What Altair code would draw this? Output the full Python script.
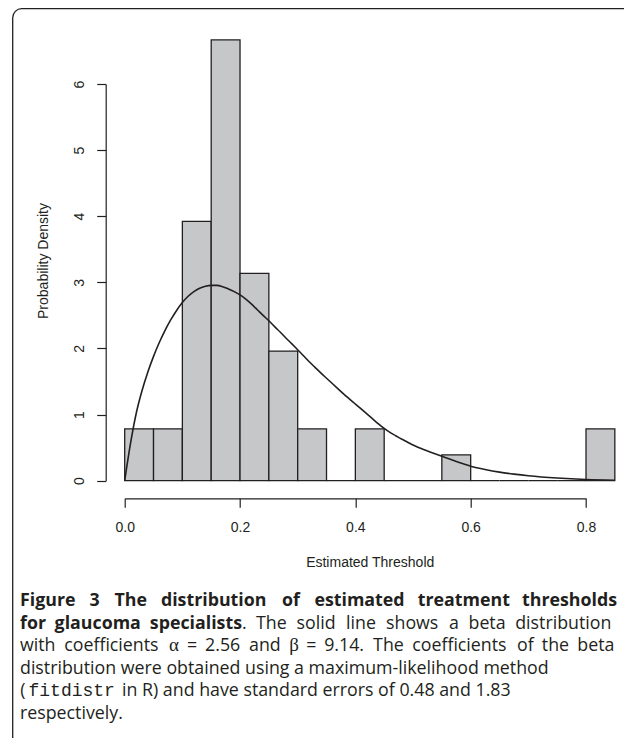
import altair as alt
import pandas as pd

# ---- data ----
bin_start = [0.00, 0.05, 0.10, 0.15, 0.20, 0.25, 0.30, 0.35, 0.40, 0.45, 0.50, 0.55, 0.60, 0.65, 0.70, 0.75, 0.80]
bin_end = [0.05, 0.10, 0.15, 0.20, 0.25, 0.30, 0.35, 0.40, 0.45, 0.50, 0.55, 0.60, 0.65, 0.70, 0.75, 0.80, 0.85]
density = [0.784, 0.784, 3.922, 6.667, 3.137, 1.961, 0.784, 0.0, 0.784, 0.0, 0.0, 0.392, 0.0, 0.0, 0.0, 0.0, 0.784]

curve_x = [0.00, 0.01, 0.02, 0.03, 0.04, 0.05, 0.06, 0.07, 0.08, 0.09, 0.10, 0.11, 0.12, 0.13, 0.14,
           0.15, 0.16, 0.17, 0.18, 0.19, 0.20, 0.21, 0.22, 0.23, 0.24, 0.25, 0.26, 0.27, 0.28, 0.29,
           0.30, 0.31, 0.32, 0.33, 0.34, 0.35, 0.36, 0.37, 0.38, 0.39, 0.40, 0.41, 0.42, 0.43, 0.44,
           0.45, 0.46, 0.47, 0.48, 0.49, 0.50, 0.525, 0.55, 0.575, 0.60, 0.625, 0.65, 0.675, 0.70,
           0.75, 0.80, 0.85]
curve_y = [0.00, 0.56, 1.02, 1.36, 1.64, 1.88, 2.09, 2.275, 2.435, 2.575, 2.695, 2.79, 2.86, 2.91, 2.94,
           2.955, 2.955, 2.935, 2.90, 2.86, 2.81, 2.745, 2.67, 2.585, 2.50, 2.42, 2.33, 2.245, 2.155, 2.07,
           1.98, 1.89, 1.80, 1.715, 1.63, 1.55, 1.47, 1.39, 1.31, 1.235, 1.16, 1.085, 1.01, 0.935, 0.86,
           0.79, 0.73, 0.68, 0.63, 0.585, 0.54, 0.45, 0.37, 0.29, 0.22, 0.17, 0.13, 0.10, 0.075,
           0.04, 0.018, 0.007]

x_ticks = [0.0, 0.2, 0.4, 0.6, 0.8]
y_ticks = [0, 1, 2, 3, 4, 5, 6]

x_title = "Estimated Threshold"
y_title = "Probability Density"

# caption words (text only)
line1_words = ["Figure", "3", "The", "distribution", "of", "estimated", "treatment", "thresholds"]
line2_bold = ["for", "glaucoma"]
line2_bold_last = "specialists"
line2_words = [".", "The", "solid", "line", "shows", "a", "beta", "distribution"]
line3_words = ["with", "coefficients", "\u03b1", "=", "2.56", "and", "\u03b2", "=", "9.14.", "The",
               "coefficients", "of", "the", "beta"]
line4_text = "distribution were obtained using a maximum-likelihood method"
line5_open, line5_code, line5_rest = "(", "fitdistr", "in R) and have standard errors of 0.48 and 1.83"
line6_text = "respectively."

# ---- layout ----
W, H = 461.3, 396.7
PL, PT = 116.7, 76
OX, OY = 124.7, 84          # page position of the plot origin
INK = "#231f20"
AX_FONT = "Liberation Sans"
AX_SIZE = 14
CAP_FONT = "Open Sans"
CAP_SIZE = 17.8

bars_df = pd.DataFrame({"start": bin_start, "end": bin_end, "density": density})
curve_df = pd.DataFrame({"x": curve_x, "y": curve_y})
one = pd.DataFrame({"k": [0]})

xs = alt.Scale(domain=[0, 0.8], nice=False, zero=False)
ys = alt.Scale(domain=[0, 6], nice=False)

x_axis = alt.Axis(values=x_ticks, format=".1f", offset=17.6, tickSize=9, tickWidth=1.2,
                  domainWidth=1.2, domainColor=INK, tickColor=INK, grid=False, labelFlush=False,
                  labelFont=AX_FONT, labelFontSize=AX_SIZE, labelColor=INK, labelPadding=13,
                  title=x_title, titleFont=AX_FONT, titleFontSize=AX_SIZE, titleFontWeight="normal",
                  titleColor=INK, titleX=245, titleY=63.7, titleBaseline="middle", titleAlign="center")
y_axis = alt.Axis(values=y_ticks, format="d", offset=19, tickSize=9, tickWidth=1.2,
                  domainWidth=1.2, domainColor=INK, tickColor=INK, grid=False, labelFlush=False,
                  labelFont=AX_FONT, labelFontSize=AX_SIZE, labelColor=INK, labelAngle=270,
                  labelAlign="center", labelBaseline="alphabetic", labelPadding=13,
                  title=y_title, titleFont=AX_FONT, titleFontSize=AX_SIZE, titleFontWeight="normal",
                  titleColor=INK, titleAngle=270, titleX=-61.7, titleY=176.5, titleBaseline="middle",
                  titleAlign="center")

bars = alt.Chart(bars_df).mark_rect(fill="#c6c7c9", stroke=INK, strokeWidth=1.3, clip=False).encode(
    x=alt.X("start:Q", scale=xs, axis=x_axis),
    x2="end:Q",
    y=alt.Y("density:Q", scale=ys, axis=y_axis),
    y2=alt.datum(0),
)

curve = alt.Chart(curve_df).mark_line(color=INK, strokeWidth=1.6, interpolate="monotone", clip=False).encode(
    x=alt.X("x:Q", scale=xs),
    y=alt.Y("y:Q", scale=ys),
)

border = alt.Chart(one).mark_rect(fill=None, stroke=INK, strokeWidth=1.3, cornerRadius=9).encode(
    x=alt.value(12.7 - OX), x2=alt.value(640 - OX),
    y=alt.value(8.7 - OY), y2=alt.value(780 - OY),
)


def seg(text, px, py, weight="normal", font=CAP_FONT, size=CAP_SIZE, align="left"):
    return alt.Chart(one).mark_text(text=text, align=align, baseline="alphabetic", font=font,
                                    fontSize=size, fontWeight=weight, color=INK).encode(
        x=alt.value(px - OX), y=alt.value(py - OY))


L0, R0 = 20, 615
BASE = [606, 628.5, 651, 673.5, 696, 718.5]   # caption baselines

# word start positions for the justified lines
line1_x = [20, 89.4, 114.4, 160.9, 282, 314.4, 417.8, 522]
line2_bold_x = [20, 54.6]
line2_bold_end = 242
line2_x = [242, 256, 296.5, 346, 386, 449, 468.5, 515.2]
line3_x = [20, 64.2, 169.1, 187.1, 205.1, 249, 289.2, 306.2, 324.2, 373.1, 412.2, 517.1, 541.8, 577.3]

caps = []
for w, px in zip(line1_words, line1_x):
    caps.append(seg(w, px, BASE[0], "bold"))
for w, px in zip(line2_bold, line2_bold_x):
    caps.append(seg(w, px, BASE[1], "bold"))
caps.append(seg(line2_bold_last, line2_bold_end, BASE[1], "bold", align="right"))
for w, px in zip(line2_words, line2_x):
    caps.append(seg(w, px, BASE[1]))
for w, px in zip(line3_words, line3_x):
    if w in ("\u03b1", "\u03b2"):
        caps.append(seg(w, px, BASE[2], font="Liberation Serif", size=19))
    else:
        caps.append(seg(w, px, BASE[2]))
caps.append(seg(line4_text, L0, BASE[3]))
caps.append(seg(line5_open, 25.5, BASE[4], align="right"))
caps.append(seg(line5_code, 28.5, BASE[4], font="Liberation Mono", size=18))
caps.append(seg(line5_rest, 122, BASE[4]))
caps.append(seg(line6_text, L0, BASE[5]))

chart = alt.layer(border, bars, curve, *caps).properties(
    width=W, height=H, autosize="none",
    padding={"left": PL, "top": PT, "right": 616 - PL - W, "bottom": 730 - PT - H},
    background="white",
).configure_view(stroke=None)

chart.save("out.html", embed_options={"renderer": "svg", "actions": False})
